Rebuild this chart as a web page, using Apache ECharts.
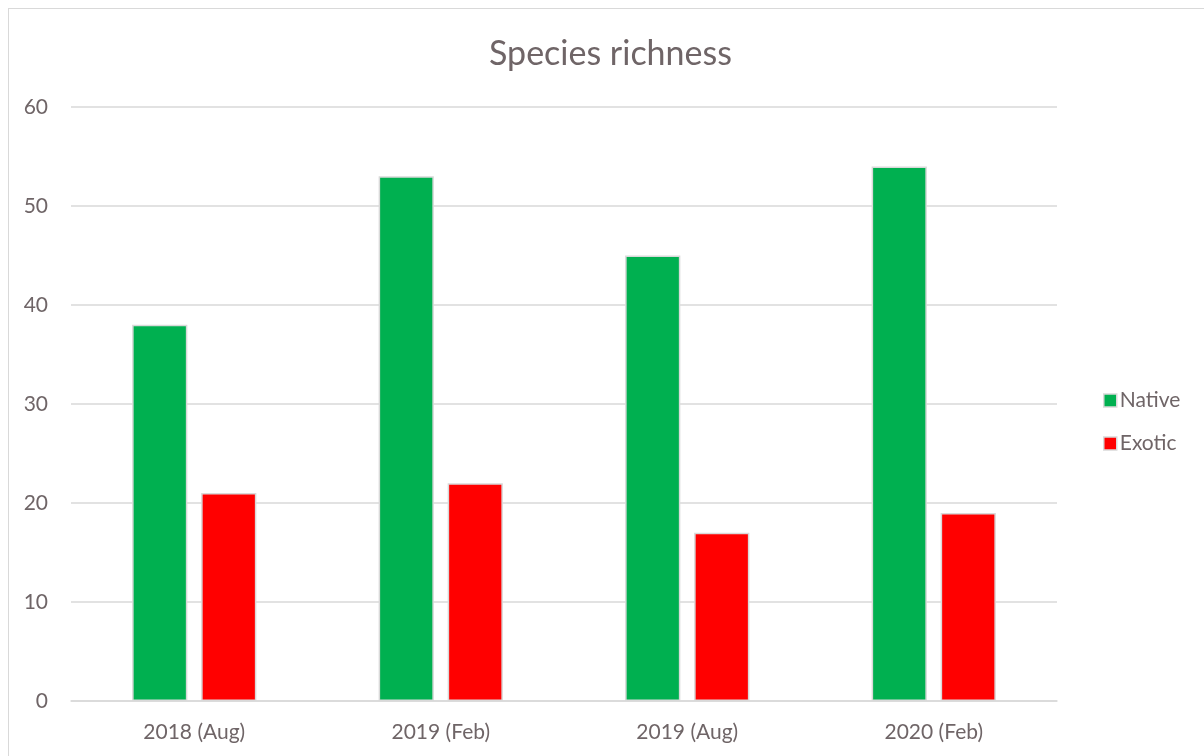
<!DOCTYPE html>
<html><head><meta charset="utf-8">
<script src="https://cdn.jsdelivr.net/npm/echarts@6/dist/echarts.min.js"></script>
<style>
html,body{margin:0;padding:0;background:#fff;}
#frame{position:absolute;left:8px;top:8px;width:1210px;height:760px;border:1.5px solid #d9d9d9;box-sizing:border-box;}
#c{position:absolute;left:0;top:0;width:1204px;height:756px;}
</style></head>
<body>
<div id="frame"></div>
<div id="c"></div>
<script>
const categories = ['2018 (Aug)', '2019 (Feb)', '2019 (Aug)', '2020 (Feb)'];
const nativeValues = [38, 53, 45, 54];
const exoticValues = [21, 22, 17, 19];
const yTicks = {min: 0, max: 60, interval: 10};

const textColor = '#6f6567';
const font = 'Lato, "Open Sans", sans-serif';
const chart = echarts.init(document.getElementById('c'));
chart.setOption({
  animation: false,
  title: {text: 'Species richness', left: 484, top: 32,
    textStyle: {fontFamily: font, fontSize: 34, fontWeight: 'normal', color: textColor}},
  legend: {orient: 'vertical', left: 1098, top: 385, itemGap: 22, itemWidth: 13, itemHeight: 13,
    icon: 'rect',
    textStyle: {fontFamily: font, fontSize: 21, color: textColor, padding: [0,0,0,-2]},
    data: [{name: 'Native', itemStyle: {borderColor: '#d9d9d9', borderWidth: 1.5}},
           {name: 'Exotic', itemStyle: {borderColor: '#d9d9d9', borderWidth: 1.5}}]},
  grid: {left: 71, right: 147, top: 107, bottom: 55},
  xAxis: {type: 'category', data: categories,
    axisLine: {show: true, lineStyle: {color: '#d9d9d9', width: 1.5}},
    axisTick: {show: false},
    axisLabel: {fontFamily: font, fontSize: 21, color: textColor, margin: 21}},
  yAxis: {type: 'value', min: yTicks.min, max: yTicks.max, interval: yTicks.interval,
    axisLine: {show: false}, axisTick: {show: false},
    splitLine: {lineStyle: {color: '#d9d9d9', width: 1.5}},
    axisLabel: {fontFamily: font, fontSize: 21, color: textColor, margin: 23}},
  series: [
    {name: 'Native', type: 'bar', data: nativeValues, barWidth: '22.4%', barGap: '25%',
     itemStyle: {color: '#00b050', borderColor: '#d9d9d9', borderWidth: 1.5}},
    {name: 'Exotic', type: 'bar', data: exoticValues, barWidth: '22.4%',
     itemStyle: {color: '#ff0000', borderColor: '#d9d9d9', borderWidth: 1.5}}
  ]
});
</script>
</body></html>
